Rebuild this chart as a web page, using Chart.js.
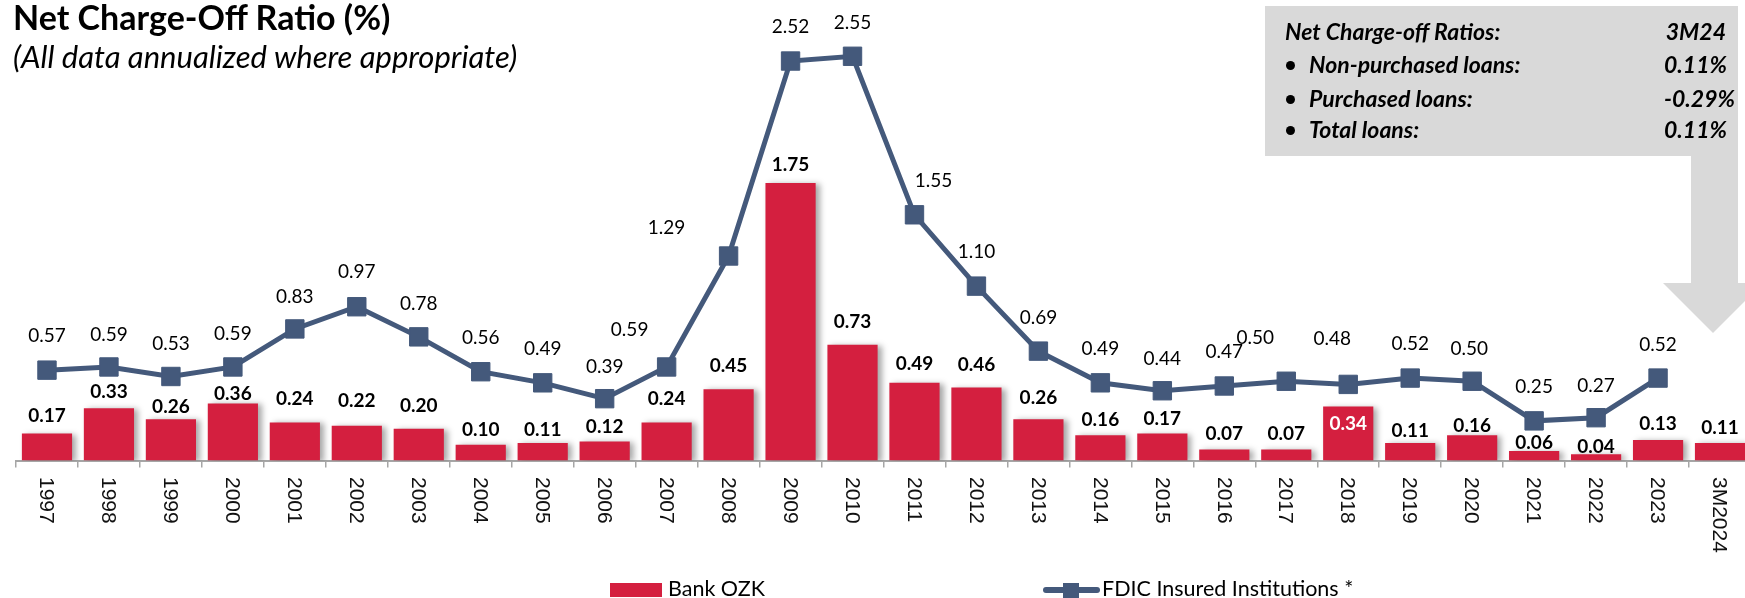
<!DOCTYPE html>
<html>
<head>
<meta charset="utf-8">
<script src="https://cdn.jsdelivr.net/npm/chart.js@4.4.1/dist/chart.umd.min.js"></script>
<style>
  html, body { margin: 0; padding: 0; background: #fff; overflow: hidden; }
  #wrap { position: relative; width: 1745px; height: 598px; overflow: hidden; font-family: Lato, "Noto Sans", sans-serif; }
  #chart { position: absolute; left: 0; top: 0; }
  #callout { position: absolute; left: 0; top: 0; pointer-events: none; }
  .t { position: absolute; white-space: nowrap; line-height: 1; color: #000; }
  .title { left: 13px; top: 0px; font-size: 34px; font-weight: bold; }
  .sub { left: 13px; top: 41px; font-size: 31px; font-style: italic; }
  .box { font-size: 23px; font-weight: bold; font-style: italic; }
  .r { text-align: right; }
  .dot { position: absolute; width: 9px; height: 9px; border-radius: 50%; background: #000; }
  .leg { font-size: 21.5px; }
</style>
</head>
<body>
<div id="wrap">
  <canvas id="chart" width="1751" height="598"></canvas>

  <svg id="callout" width="1745" height="598">
    <polygon points="1265,6 1738,6 1738,283 1763,283 1713,333 1663,283 1691,283 1691,156 1265,156" fill="#D9D9D9"/>
  </svg>

  <div class="t title">Net Charge-Off Ratio (%)</div>
  <div class="t sub">(All data annualized where appropriate)</div>

  <div class="t box" style="left:1285px; top:19.6px;">Net Charge-off Ratios:</div>
  <div class="t box r" style="right:19px; top:19.6px;">3M24</div>
  <div class="dot" style="left:1286px; top:61px;"></div>
  <div class="t box" style="left:1309px; top:52.6px;">Non-purchased loans:</div>
  <div class="t box r" style="right:18px; top:52.6px;">0.11%</div>
  <div class="dot" style="left:1286px; top:95px;"></div>
  <div class="t box" style="left:1309px; top:86.6px;">Purchased loans:</div>
  <div class="t box r" style="right:10px; top:86.6px;">-0.29%</div>
  <div class="dot" style="left:1286px; top:126px;"></div>
  <div class="t box" style="left:1309px; top:117.6px;">Total loans:</div>
  <div class="t box r" style="right:18px; top:117.6px;">0.11%</div>

  <div style="position:absolute; left:610px; top:583px; width:52px; height:14px; background:#D41F3F;"></div>
  <div class="t leg" style="left:668px; top:578px;">Bank OZK</div>
  <div style="position:absolute; left:1043px; top:587px; width:57px; height:6px; border-radius:3px; background:#44597B;"></div>
  <div style="position:absolute; left:1063px; top:583px; width:16px; height:15px; background:#44597B;"></div>
  <div class="t leg" style="left:1102px; top:578px;">FDIC Insured Institutions *</div>
</div>

<script>
// ---- data ----
const years = ['1997', '1998', '1999', '2000', '2001', '2002', '2003', '2004', '2005', '2006',
  '2007', '2008', '2009', '2010', '2011', '2012', '2013', '2014', '2015', '2016',
  '2017', '2018', '2019', '2020', '2021', '2022', '2023', '3M2024'];

const bankOzk = [0.17, 0.33, 0.26, 0.36, 0.24, 0.22, 0.20, 0.10, 0.11, 0.12,
  0.24, 0.45, 1.75, 0.73, 0.49, 0.46, 0.26, 0.16, 0.17, 0.07,
  0.07, 0.34, 0.11, 0.16, 0.06, 0.04, 0.13, 0.11];

const fdicInsured = [0.57, 0.59, 0.53, 0.59, 0.83, 0.97, 0.78, 0.56, 0.49, 0.39,
  0.59, 1.29, 2.52, 2.55, 1.55, 1.10, 0.69, 0.49, 0.44, 0.47,
  0.50, 0.48, 0.52, 0.50, 0.25, 0.27, 0.52, null];

// label placement tweaks (px), as in the original slide
const barLabelLift = [18, 16, 12, 10, 24, 25, 23, 15, 13, 15,
  24, 23, 18, 23, 19, 23, 21, 15, 15, 16,
  16, -17, 12, 9, 8, 7, 16, 15];   // negative = inside the bar, white
const lineLabelLift = [34, 32, 33, 33, 32, 35, 33, 34, 34, 32,
  37, 28, 34, 33, 34, 34, 33, 34, 32, 34,
  43, 46, 34, 32, 34, 32, 33, 0];
const lineLabelShift = [0, 0, 0, 0, 0, 0, 0, 0, 0, 0,
  -37, -62, 0, 0, 19, 0, 0, 0, 0, 0,
  -31, -16, 0, -3, 0, 0, 0, 0];

const RED = '#D41F3F';
const SLATE = '#44597B';

const barShadow = {
  id: 'barShadow',
  beforeDatasetDraw(chart, args) {
    if (args.meta.type !== 'bar') return;
    const c = chart.ctx;
    c.save();
    c.shadowColor = 'rgba(0,0,0,0.35)';
    c.shadowBlur = 6;
    c.shadowOffsetX = 4;
    c.shadowOffsetY = 1;
  },
  afterDatasetDraw(chart, args) {
    if (args.meta.type === 'bar') chart.ctx.restore();
  }
};

const valueLabels = {
  id: 'valueLabels',
  afterDatasetsDraw(chart) {
    const c = chart.ctx;
    const lineMeta = chart.getDatasetMeta(0);
    const barMeta = chart.getDatasetMeta(1);
    c.save();
    c.textAlign = 'center';
    c.textBaseline = 'middle';

    c.font = 'bold 19px Lato';
    barMeta.data.forEach((bar, i) => {
      const lift = barLabelLift[i];
      c.fillStyle = lift < 0 ? '#fff' : '#000';
      c.fillText(bankOzk[i].toFixed(2), bar.x, bar.y - lift);
    });

    c.font = '19px Lato';
    c.fillStyle = '#000';
    lineMeta.data.forEach((pt, i) => {
      if (fdicInsured[i] == null) return;
      c.fillText(fdicInsured[i].toFixed(2), pt.x + lineLabelShift[i], pt.y - lineLabelLift[i]);
    });

    // category labels, rotated 90deg clockwise like the slide
    const xs = chart.scales.x;
    c.font = '21px "Liberation Sans"';
    c.textAlign = 'left';
    c.fillStyle = '#111';
    years.forEach((y, i) => {
      c.save();
      c.translate(xs.getPixelForValue(i) - 1, xs.top + 16.5);
      c.rotate(Math.PI / 2);
      c.fillText(y, 0, 0);
      c.restore();
    });
    c.restore();
  }
};

new Chart(document.getElementById('chart'), {
  type: 'bar',
  data: {
    labels: years,
    datasets: [
      {
        type: 'line',
        label: 'FDIC Insured Institutions *',
        data: fdicInsured,
        borderColor: SLATE,
        backgroundColor: SLATE,
        borderWidth: 5,
        pointStyle: 'rect',
        pointRadius: 13,
        pointHoverRadius: 13,
        pointBorderWidth: 1,
        order: 0,
        clip: false
      },
      {
        type: 'bar',
        label: 'Bank OZK',
        data: bankOzk,
        backgroundColor: RED,
        barPercentage: 0.81,
        categoryPercentage: 1,
        order: 1
      }
    ]
  },
  options: {
    responsive: false,
    animation: false,
    events: [],
    layout: { autoPadding: false, padding: { left: 16, right: 0, top: 0, bottom: 0 } },
    plugins: { legend: { display: false }, tooltip: { enabled: false } },
    scales: {
      x: {
        grid: { display: true, drawOnChartArea: false, drawTicks: true, tickLength: 7, color: '#A6A6A6', lineWidth: 1.5, offset: true },
        border: { display: true, color: '#A6A6A6', width: 2 },
        ticks: { display: false, autoSkip: false },
        afterFit: s => { s.height = 598 - 460.5; }
      },
      y: { display: false, min: 0, max: 2.905 }
    }
  },
  plugins: [barShadow, valueLabels]
});
</script>
</body>
</html>
